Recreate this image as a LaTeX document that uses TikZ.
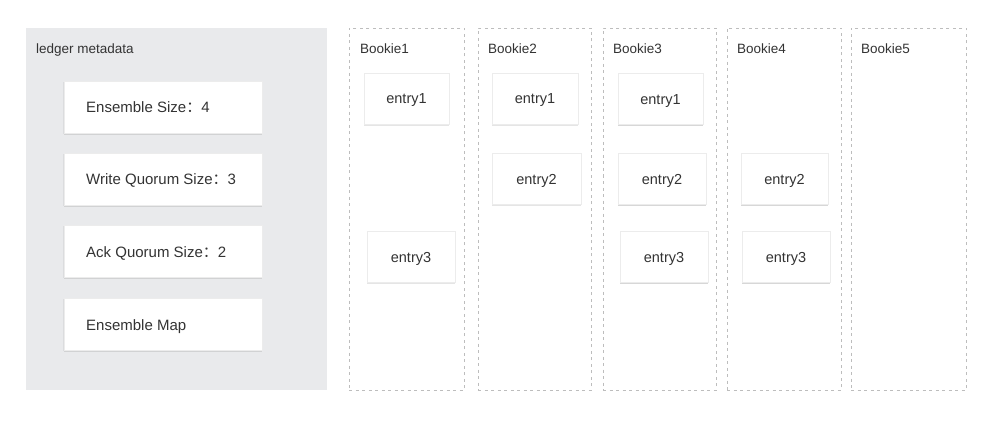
\documentclass[tikz,border=0pt]{standalone}
\usepackage{fontspec}
\setmainfont{Liberation Sans}
\newfontfamily\cjk{Noto Sans CJK SC}
\usetikzlibrary{shadows}
\definecolor{panelgray}{HTML}{E9EAEC}
\definecolor{txt}{HTML}{333333}
\definecolor{dashgray}{HTML}{BDBDBD}
\definecolor{cardedge}{HTML}{ECECEC}
\tikzset{
  panel/.style={rectangle, fill=panelgray, draw=none, inner sep=0pt},
  column/.style={rectangle, draw=dashgray, line width=0.9pt, dash pattern=on 3pt off 3.5pt, inner sep=0pt},
  card/.style={rectangle, fill=white, draw=cardedge, line width=0.8pt, inner sep=0pt,
    drop shadow={shadow xshift=0pt, shadow yshift=-1.8pt, opacity=0.10, fill=black},
    drop shadow={shadow xshift=0pt, shadow yshift=-0.8pt, shadow scale=1.01, opacity=0.06, fill=black}},
  metabox/.style={card, minimum width=198pt, minimum height=52pt},
  entrybox/.style={card, minimum height=51pt, text=txt, text height=11pt, text depth=0pt,
    font=\fontsize{14.5}{16}\selectfont},
  lbl/.style={anchor=west, inner sep=0pt, text=txt, text height=12pt, text depth=0pt,
    font=\fontsize{15}{17}\selectfont},
  title/.style={anchor=west, inner sep=0pt, text=txt, text height=11pt, text depth=0pt,
    font=\fontsize{13.5}{15}\selectfont},
}
\begin{document}
\begin{tikzpicture}[x=1pt,y=-1pt]
\useasboundingbox (0,0) rectangle (1000,422);
\fill[white] (0,0) rectangle (1000,422);
% left panel
\node[panel, minimum width=301pt, minimum height=362pt] (meta) at (176.5,209) {};
\node[title] (metatitle) at (36,48.5) {ledger metadata};
\node[metabox] (ens) at (163,107) {};
\node[metabox] (wq) at (163,179) {};
\node[metabox] (aq) at (163,251) {};
\node[metabox] (emap) at (163,324) {};
\node[lbl] (enst) at (86,107) {Ensemble Size{\cjk ：}4};
\node[lbl] (wqt) at (86,179) {Write Quorum Size{\cjk ：}3};
\node[lbl] (aqt) at (86,251) {Ack Quorum Size{\cjk ：}2};
\node[lbl] (emapt) at (86,324) {Ensemble Map};
% bookie columns
\node[column, minimum width=115pt, minimum height=362pt] (b1) at (406.5,209) {};
\node[column, minimum width=113pt, minimum height=362pt] (b2) at (534.5,209) {};
\node[column, minimum width=113pt, minimum height=362pt] (b3) at (659.5,209) {};
\node[column, minimum width=114pt, minimum height=362pt] (b4) at (784,209) {};
\node[column, minimum width=115pt, minimum height=362pt] (b5) at (908.5,209) {};
\node[title] (b1t) at (360,48.5) {Bookie1};
\node[title] (b2t) at (488,48.5) {Bookie2};
\node[title] (b3t) at (613,48.5) {Bookie3};
\node[title] (b4t) at (737,48.5) {Bookie4};
\node[title] (b5t) at (861,48.5) {Bookie5};
% entries
\node[entrybox, minimum width=85pt] (b1e1) at (406.5,98.5) {entry1};
\node[entrybox, minimum width=88pt] (b1e3) at (411,256.5) {entry3};
\node[entrybox, minimum width=86pt] (b2e1) at (535,98.5) {entry1};
\node[entrybox, minimum width=89pt] (b2e2) at (536.5,178.5) {entry2};
\node[entrybox, minimum width=85pt] (b3e1) at (660.5,99) {entry1};
\node[entrybox, minimum width=88pt] (b3e2) at (662,179) {entry2};
\node[entrybox, minimum width=88pt] (b3e3) at (664,257) {entry3};
\node[entrybox, minimum width=87pt] (b4e2) at (784.5,179) {entry2};
\node[entrybox, minimum width=88pt] (b4e3) at (786,257) {entry3};
\end{tikzpicture}
\end{document}
